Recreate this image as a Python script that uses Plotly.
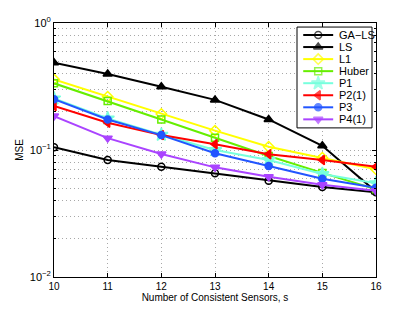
import plotly.graph_objects as go

s = [10, 11, 12, 13, 14, 15, 16]
ga_ls = [0.105, 0.0834, 0.0739, 0.0655, 0.0573, 0.0511, 0.0464]
ls = [0.487, 0.397, 0.315, 0.248, 0.174, 0.108, 0.047]
l1 = [0.360, 0.263, 0.192, 0.142, 0.106, 0.087, 0.0705]
huber = [0.335, 0.243, 0.174, 0.125, 0.0897, 0.066, 0.049]
p1 = [0.255, 0.177, 0.132, 0.100, 0.0834, 0.0647, 0.0547]
p2 = [0.222, 0.164, 0.131, 0.111, 0.0925, 0.0834, 0.0739]
p3 = [0.251, 0.174, 0.131, 0.0942, 0.0748, 0.0594, 0.0505]
p4 = [0.185, 0.124, 0.093, 0.073, 0.0616, 0.0533, 0.0478]

names = ["GA\u2212LS", "LS", "L1", "Huber", "P1", "P2(1)", "P3", "P4(1)"]
values = [ga_ls, ls, l1, huber, p1, p2, p3, p4]
colors = ["#000000", "#000000", "#ffff00", "#66ee00", "#77ffdd", "#ff0000", "#2255ff", "#aa44ff"]
symbols = ["circle-open", "triangle-up", "diamond-open", "square-open", "star",
           "triangle-left", "circle", "triangle-down"]
sizes = [7, 8, 8, 7, 10, 8, 7, 8]

fig = go.Figure()
for name, vals, col, sym, sz in zip(names, values, colors, symbols, sizes):
    fig.add_trace(go.Scatter(
        x=s, y=vals, name=name, mode="lines+markers", showlegend=False,
        line=dict(color=col, width=2),
        marker=dict(symbol=sym, size=sz, color=col, line=dict(color=col, width=1.5)),
    ))

# custom compact legend on an overlay axis (0..1 in both directions)
lx0, lx1, ly_top, ly_bot = 0.7547, 0.9876, 0.984, 0.587
row_top, row_step = (269 - 27) / 254, 12.05 / 254
seg_x0, seg_x1, txt_x = 0.774, 0.867, 0.878
fig.add_trace(go.Scatter(
    x=[lx0, lx1, lx1, lx0, lx0], y=[ly_bot, ly_bot, ly_top, ly_top, ly_bot],
    xaxis="x2", yaxis="y2", mode="lines", fill="toself", fillcolor="white",
    line=dict(color="black", width=1), showlegend=False, hoverinfo="skip",
))
for i, (name, col, sym, sz) in enumerate(zip(names, colors, symbols, sizes)):
    yy = row_top - i * row_step
    fig.add_trace(go.Scatter(
        x=[seg_x0, (seg_x0 + seg_x1) / 2, seg_x1], y=[yy, yy, yy],
        xaxis="x2", yaxis="y2", mode="lines+markers", showlegend=False, hoverinfo="skip",
        line=dict(color=col, width=2),
        marker=dict(symbol=sym, size=[0, sz, 0], color=col, line=dict(color=col, width=1.5)),
    ))
    fig.add_annotation(x=txt_x, y=yy, xref="x2", yref="y2", text=name, showarrow=False,
                       xanchor="left", yanchor="middle", font=dict(size=11))

minor_vals = [k * 10**e for e in (-2, -1) for k in range(2, 10)]
grid_kw = dict(showgrid=True, gridcolor="#a8a8a8", griddash="1px,3px", gridwidth=1)

fig.update_layout(
    width=415, height=312,
    margin=dict(l=46, r=47, t=15, b=43),
    paper_bgcolor="white", plot_bgcolor="white",
    font=dict(family="Liberation Sans, Arial, sans-serif", size=10, color="black"),
    showlegend=False,
    xaxis2=dict(overlaying="x", range=[0, 1], visible=False, fixedrange=True),
    yaxis2=dict(overlaying="y", range=[0, 1], visible=False, fixedrange=True),
)
fig.update_layout(
    xaxis=dict(
        range=[10, 16], tickvals=s, ticktext=[str(v) for v in s],
        showline=True, linecolor="black", linewidth=1, mirror="ticks",
        ticks="inside", ticklen=4, tickcolor="black", zeroline=False, automargin=False,
        title=dict(text="Number of Consistent Sensors, s", font=dict(size=10), standoff=2),
        tickfont=dict(size=10), **grid_kw,
    ),
    yaxis=dict(
        type="log", range=[-2, 0],
        tickvals=[0.01, 0.1, 1],
        ticktext=["10<sup>\u22122</sup>", "10<sup>\u22121</sup>", "10<sup>0</sup>"],
        showline=True, linecolor="black", linewidth=1, mirror="ticks",
        ticks="inside", ticklen=4, tickcolor="black", zeroline=False, automargin=False,
        minor=dict(tickvals=minor_vals, showgrid=True, gridcolor="#a8a8a8",
                   griddash="1px,3px", ticks="inside", ticklen=2, tickcolor="black"),
        title=dict(text="MSE", font=dict(size=10), standoff=4),
        tickfont=dict(size=11), **grid_kw,
    ),
)

fig.write_html("out.html")
